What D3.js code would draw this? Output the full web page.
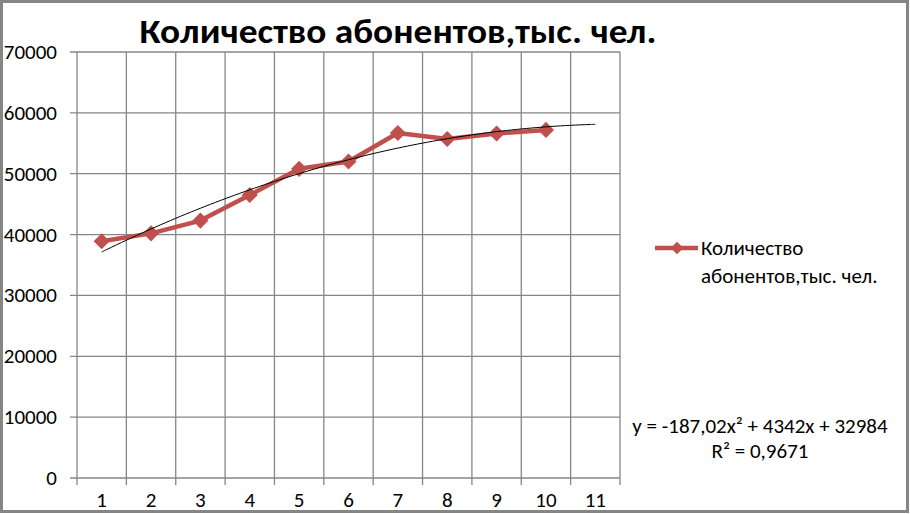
<!DOCTYPE html>
<html><head><meta charset="utf-8">
<script src="https://cdn.jsdelivr.net/npm/d3@7"></script>
<style>
body{margin:0;background:#fff;}
text{font-family:Carlito,Calibri,Lato,"Liberation Sans",sans-serif;}
</style></head>
<body><svg id="c" width="910" height="514"></svg>
<script>
const categories = [1,2,3,4,5,6,7,8,9,10,11];
const seriesName = "Количество абонентов,тыс. чел.";
const values = [38900, 40200, 42300, 46500, 50800, 52000, 56700, 55700, 56600, 57200];
const yTicks = [0,10000,20000,30000,40000,50000,60000,70000];
const trendCoef = [32984, 4342, -187.02]; // c0 + c1 x + c2 x^2
const trendLabel = ["y = -187,02x² + 4342x + 32984", "R² = 0,9671"];
const title = "Количество абонентов,тыс. чел.";

const svg = d3.select("#c");
svg.append("rect").attr("x",1.5).attr("y",1.5).attr("width",906).attr("height",510)
  .attr("fill","#fff").attr("stroke","#868686").attr("stroke-width",3);

const L=77,R=620,T=52,B=478;
const x = d3.scaleBand().domain(categories).range([L,R]).padding(0);
const y = d3.scaleLinear().domain([0,70000]).range([B,T]);
const cx = c => x(c)+x.bandwidth()/2;

const g = svg.append("g");
g.selectAll(".hg").data(yTicks).join("line")
  .attr("x1",L-7).attr("x2",R).attr("y1",d=>y(d)).attr("y2",d=>y(d))
  .attr("stroke","#868686").attr("stroke-width",1.3);
const bounds = categories.map(c=>x(c)).concat([R]);
g.selectAll(".vg").data(bounds).join("line")
  .attr("x1",d=>d).attr("x2",d=>d).attr("y1",T).attr("y2",B+7)
  .attr("stroke","#868686").attr("stroke-width",1.3);

g.selectAll(".yl").data(yTicks).join("text")
  .attr("x",57).attr("y",d=>y(d)+7).attr("text-anchor","end")
  .attr("font-size",21).attr("fill","#000").text(d=>d);
g.selectAll(".xl").data(categories).join("text")
  .attr("x",d=>cx(d)).attr("y",507).attr("text-anchor","middle")
  .attr("font-size",21).attr("fill","#000").text(d=>d);

const line = d3.line().x((d,i)=>cx(categories[i])).y(d=>y(d));
g.append("path").datum(values).attr("d",line).attr("fill","none")
  .attr("stroke","#C0504D").attr("stroke-width",4.5).attr("stroke-linejoin","round");
const diamond = d3.symbol().type(d3.symbolSquare).size(130);
g.selectAll(".pt").data(values).join("path")
  .attr("d",diamond())
  .attr("transform",(d,i)=>`translate(${cx(categories[i])},${y(d)}) rotate(45)`)
  .attr("fill","#C0504D");

const tx = d3.scaleLinear().domain([1,11]).range([cx(1),cx(11)]);
const samples = d3.range(1,11.001,0.1);
const tl = d3.line().x(d=>tx(d)).y(d=>y(trendCoef[0]+trendCoef[1]*d+trendCoef[2]*d*d)).curve(d3.curveBasis);
g.append("path").datum(samples).attr("d",tl).attr("fill","none").attr("stroke","#000").attr("stroke-width",1);

svg.append("text").attr("x",398).attr("y",43).attr("text-anchor","middle")
  .attr("font-size",34).attr("font-weight","bold").attr("textLength",517)
  .attr("lengthAdjust","spacingAndGlyphs").text(title);

svg.append("line").attr("x1",655).attr("x2",698).attr("y1",248).attr("y2",248)
  .attr("stroke","#C0504D").attr("stroke-width",4.5);
svg.append("path").attr("d",d3.symbol().type(d3.symbolSquare).size(80)())
  .attr("transform","translate(677,248) rotate(45)").attr("fill","#C0504D");
const lt = svg.append("text").attr("font-size",21).attr("fill","#000");
lt.append("tspan").attr("x",701).attr("y",255).text("Количество");
lt.append("tspan").attr("x",701).attr("y",283).text("абонентов,тыс. чел.");

svg.selectAll(".eq").data(trendLabel).join("text")
  .attr("x",760).attr("y",(d,i)=>433+i*25).attr("text-anchor","middle")
  .attr("font-size",21).attr("fill","#000").text(d=>d);
</script></body></html>
